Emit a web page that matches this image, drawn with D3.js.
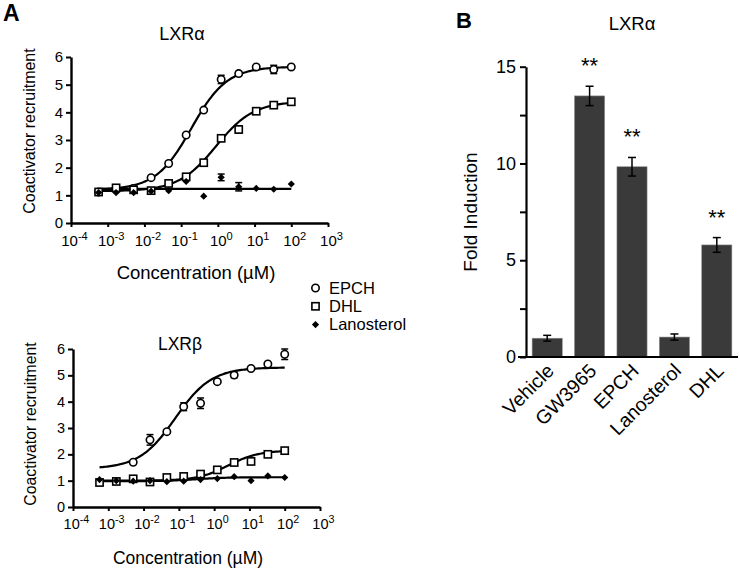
<!DOCTYPE html>
<html>
<head>
<meta charset="utf-8">
<script src="https://cdn.jsdelivr.net/npm/d3@7"></script>
<style>
    body { margin: 0; background: #fff; }
    svg { display: block; font-family: "Liberation Sans", Arial, sans-serif; }
</style>
</head>
<body>
<div id="chart"></div>
<script>
//Concentraciones (µM), diluciones 1:3
const concentrations = [0.000565, 0.00169, 0.00508, 0.0152, 0.0457, 0.137, 0.412, 1.23, 3.7, 11.1, 33.3, 100];
const decades = [1e-4, 1e-3, 1e-2, 1e-1, 1e0, 1e1, 1e2, 1e3];
const yTicksA = [0, 1, 2, 3, 4, 5, 6];

//LXRα
const alphaEPCH = [1.12, 1.2, 1.25, 1.64, 2.15, 3.18, 4.08, 5.19, 5.4, 5.64, 5.55, 5.64];
const alphaEPCHErr = [0, 0, 0, 0, 0, 0, 0, 0.15, 0.08, 0, 0.15, 0];
const alphaDHL = [1.12, 1.27, 1.2, 1.17, 1.43, 1.67, 2.18, 3.06, 3.38, 4.04, 4.26, 4.38];
const alphaDHLErr = [0, 0, 0, 0, 0, 0, 0, 0.05, 0.13, 0.05, 0, 0];
const alphaLano = [1.1, 1.1, 1.1, 1.15, 1.17, 1.5, 0.97, 1.65, 1.31, 1.25, 1.22, 1.41];
const alphaLanoErr = [0, 0, 0, 0, 0, 0, 0, 0.12, 0.15, 0, 0, 0];

//LXRβ
const betaEPCH = [null, null, 1.7, 2.55, 2.86, 3.81, 3.94, 4.76, 5.01, 5.26, 5.43, 5.8];
const betaEPCHErr = [0, 0, 0, 0.2, 0, 0.15, 0.2, 0, 0.1, 0, 0, 0.2];
const betaDHL = [0.93, 0.97, 1.07, 0.95, 1.12, 1.16, 1.25, 1.41, 1.69, 1.73, 2.0, 2.14];
const betaDHLErr = [0, 0, 0, 0, 0, 0, 0, 0, 0, 0, 0.06, 0];
const betaLano = [1.04, 1.0, 0.98, 1.0, 0.96, 0.98, 1.04, 1.08, 1.15, 1.0, 1.18, 1.12];
const betaLanoErr = [0, 0, 0, 0, 0, 0, 0, 0, 0, 0, 0, 0];

//Ajuste sigmoide: [bottom, top, logEC50, hill]
const fitAlphaEPCH = [1.2, 5.65, -0.72, 0.9];
const fitAlphaDHL = [1.15, 4.4, -0.05, 0.85];
const fitAlphaLano = [1.23, 1.23, 0, 1];
const fitBetaEPCH = [1.45, 5.3, -1.1, 0.85];
const fitBetaDHL = [1.0, 2.15, 0.4, 1.0];
const fitBetaLano = [0.98, 1.13, -0.5, 1.0];

const legendLabels = ['EPCH', 'DHL', 'Lanosterol'];

//Panel B
const barCategories = ['Vehicle', 'GW3965', 'EPCH', 'Lanosterol', 'DHL'];
const barValues = [0.97, 13.49, 9.83, 1.03, 5.79];
const barErrors = [0.15, 0.5, 0.48, 0.16, 0.38];
const barStars = ['', '**', '**', '', '**'];
const yTicksB = [0, 2.5, 5, 7.5, 10, 12.5, 15];
const yLabelsB = [0, 5, 10, 15];

let svg = d3.select('#chart')
    .append('svg')
    .attr('width', 740)
    .attr('height', 571);

function marker(g, type, x, y) {
    if (type == 'circle') {
        g.append('circle').attr('cx', x).attr('cy', y).attr('r', 3.7)
            .attr('fill', '#fff').attr('stroke', '#000').attr('stroke-width', 1.6);
    } else if (type == 'square') {
        g.append('rect').attr('x', x - 3.6).attr('y', y - 3.6).attr('width', 7.2).attr('height', 7.2)
            .attr('fill', '#fff').attr('stroke', '#000').attr('stroke-width', 1.6);
    } else {
        g.append('path').attr('d', d3.symbol(d3.symbolSquare, 26)())
            .attr('transform', 'translate(' + x + ',' + y + ') rotate(45)')
            .attr('fill', '#000');
    }
}

function doseResponse(cfg) {
    let x = d3.scaleLog().domain([1e-4, 1e3]).range([cfg.x0, cfg.x1]);
    let y = d3.scaleLinear().domain([0, 6]).range([cfg.y0, cfg.y1]);
    let g = svg.append('g');

    //Ejes
    let xAxis = g.append('g')
        .attr('transform', 'translate(0,' + cfg.y0 + ')')
        .call(d3.axisBottom(x).tickValues(decades).tickSize(4).tickSizeOuter(0));
    xAxis.selectAll('.tick text').each(function(d) {
        let t = d3.select(this);
        t.text('').attr('font-size', cfg.tick + 'px').attr('dy', '1.05em').attr('dx', '0.2em');
        t.append('tspan').text('10');
        t.append('tspan').attr('dy', '-0.55em').attr('font-size', (cfg.tick * 0.74) + 'px')
            .text(Math.round(Math.log10(d)));
    });

    let yAxis = g.append('g')
        .attr('transform', 'translate(' + cfg.x0 + ',0)')
        .call(d3.axisLeft(y).tickValues(yTicksA).tickSize(5).tickSizeOuter(0).tickFormat(d3.format('d')));
    yAxis.selectAll('.tick text').attr('font-size', cfg.tick + 'px').attr('x', -8);

    g.selectAll('.domain').attr('stroke', '#000').attr('stroke-width', 2.4);
    g.selectAll('.tick line').attr('stroke', '#000').attr('stroke-width', 2);
    g.selectAll('.tick text').attr('fill', '#000').attr('font-family', '"Liberation Sans", Arial, sans-serif');

    //Curvas ajustadas
    let lx = d3.extent(concentrations).map(Math.log10);
    let steps = d3.range(0, 121).map(function(i) { return lx[0] + (lx[1] - lx[0]) * i / 120; });
    let line = d3.line()
        .x(function(d) { return x(Math.pow(10, d[0])); })
        .y(function(d) { return y(d[1]); });

    cfg.series.forEach(function(s) {
        let p = s.fit;
        let pts = steps.map(function(l) {
            return [l, p[0] + (p[1] - p[0]) / (1 + Math.pow(10, (p[2] - l) * p[3]))];
        });
        g.append('path').datum(pts).attr('d', line)
            .attr('fill', 'none').attr('stroke', '#000').attr('stroke-width', 2.2);
    });

    //Puntos y barras de error
    cfg.series.forEach(function(s) {
        let mg = g.append('g');
        s.values.forEach(function(v, i) {
            if (v === null) return;
            let cx = x(concentrations[i]), cy = y(v), e = s.errors[i];
            if (e > 0) {
                let r = [y(v - e), y(v + e)];
                mg.append('line').attr('x1', cx).attr('x2', cx).attr('y1', r[0]).attr('y2', r[1])
                    .attr('stroke', '#000').attr('stroke-width', 1.5);
                r.forEach(function(ry) {
                    mg.append('line').attr('x1', cx - 3.5).attr('x2', cx + 3.5).attr('y1', ry).attr('y2', ry)
                        .attr('stroke', '#000').attr('stroke-width', 1.5);
                });
            }
            marker(mg, s.type, cx, cy);
        });
    });

    //Textos
    g.append('text').attr('x', cfg.titleX).attr('y', cfg.titleY).attr('text-anchor', 'middle')
        .attr('font-size', cfg.title + 'px').text(cfg.name);
    g.append('text').attr('x', cfg.xLabelX).attr('y', cfg.y0 + cfg.xLabelDy).attr('text-anchor', 'middle')
        .attr('font-size', cfg.label + 'px').text('Concentration (µM)');
    g.append('text').attr('transform', 'translate(' + cfg.yLabelX + ',' + cfg.yLabelY + ') rotate(-90)')
        .attr('text-anchor', 'middle').attr('font-size', cfg.ylabel + 'px').text('Coactivator recruitment');
}

doseResponse({
    name: 'LXRα', x0: 71, x1: 328, y0: 223, y1: 57, tick: 15, title: 18, label: 18.5, ylabel: 16,
    titleX: 182, titleY: 40, xLabelX: 196, xLabelDy: 56, yLabelX: 35, yLabelY: 131,
    series: [
        { type: 'circle', values: alphaEPCH, errors: alphaEPCHErr, fit: fitAlphaEPCH },
        { type: 'square', values: alphaDHL, errors: alphaDHLErr, fit: fitAlphaDHL },
        { type: 'diamond', values: alphaLano, errors: alphaLanoErr, fit: fitAlphaLano }
    ]
});

doseResponse({
    name: 'LXRβ', x0: 73, x1: 320, y0: 507, y1: 349, tick: 14.5, title: 17.5, label: 17.5, ylabel: 15.8,
    titleX: 180, titleY: 350, xLabelX: 188, xLabelDy: 57, yLabelX: 36, yLabelY: 424,
    series: [
        { type: 'circle', values: betaEPCH, errors: betaEPCHErr, fit: fitBetaEPCH },
        { type: 'square', values: betaDHL, errors: betaDHLErr, fit: fitBetaDHL },
        { type: 'diamond', values: betaLano, errors: betaLanoErr, fit: fitBetaLano }
    ]
});

//Leyenda
let legend = svg.append('g');
['circle', 'square', 'diamond'].forEach(function(t, i) {
    let by = 293.5 + i * 18.3;
    marker(legend, t, 315.5, by - 5.5);
    legend.append('text').attr('x', 329).attr('y', by).attr('font-size', '16.5px').text(legendLabels[i]);
});

//Letras de panel
svg.append('text').attr('x', 3).attr('y', 21).attr('font-size', '23px').attr('font-weight', 'bold').text('A');
svg.append('text').attr('x', 456).attr('y', 28).attr('font-size', '22px').attr('font-weight', 'bold').text('B');

//Panel B - barras
let xB = d3.scaleBand().domain(barCategories).range([526, 738]).paddingInner(0.29).paddingOuter(0.145);
let yB = d3.scaleLinear().domain([0, 15]).range([357, 66.7]);
let gB = svg.append('g');

gB.selectAll('rect.bar')
    .data(barValues)
    .enter()
    .append('rect')
    .attr('class', 'bar')
    .attr('x', function(d, i) { return xB(barCategories[i]); })
    .attr('y', function(d) { return yB(d); })
    .attr('width', xB.bandwidth())
    .attr('height', function(d) { return yB(0) - yB(d); })
    .attr('fill', '#3a3a3a')
    .attr('stroke', '#8a8a8a')
    .attr('stroke-width', 0.6);

barValues.forEach(function(v, i) {
    let cx = xB(barCategories[i]) + xB.bandwidth() / 2;
    let e = barErrors[i];
    gB.append('line').attr('x1', cx).attr('x2', cx).attr('y1', yB(v - e)).attr('y2', yB(v + e))
        .attr('stroke', '#000').attr('stroke-width', 1.5);
    [v - e, v + e].forEach(function(w) {
        gB.append('line').attr('x1', cx - 4).attr('x2', cx + 4).attr('y1', yB(w)).attr('y2', yB(w))
            .attr('stroke', '#000').attr('stroke-width', 1.5);
    });
    if (barStars[i]) {
        gB.append('text').attr('x', cx).attr('y', yB(v + e) - 13).attr('text-anchor', 'middle')
            .attr('font-size', '22px').text(barStars[i]);
    }
});

let yAxisB = gB.append('g')
    .attr('transform', 'translate(526,0)')
    .call(d3.axisLeft(yB).tickValues(yTicksB).tickSize(6).tickSizeOuter(0)
        .tickFormat(function(d) { return yLabelsB.indexOf(d) >= 0 ? d : ''; }));
yAxisB.selectAll('.tick text').attr('font-size', '18px').attr('x', -10);

let xAxisB = gB.append('g')
    .attr('transform', 'translate(0,357)')
    .call(d3.axisBottom(xB).tickSize(0).tickSizeOuter(0));
xAxisB.select('.domain').attr('d', 'M518,0H738');
xAxisB.selectAll('.tick text')
    .attr('font-size', '19.5px')
    .attr('text-anchor', 'end')
    .attr('x', 0).attr('y', 0).attr('dy', 0)
    .attr('transform', 'translate(8,15) rotate(-45)');

gB.selectAll('.domain').attr('stroke', '#000').attr('stroke-width', 2.2);
gB.selectAll('.tick line').attr('stroke', '#000').attr('stroke-width', 2);
gB.selectAll('.tick text').attr('fill', '#000').attr('font-family', '"Liberation Sans", Arial, sans-serif');

gB.append('text').attr('x', 632).attr('y', 29.5).attr('text-anchor', 'middle').attr('font-size', '18.5px').text('LXRα');
gB.append('text').attr('transform', 'translate(477,212) rotate(-90)').attr('text-anchor', 'middle')
    .attr('font-size', '19px').text('Fold Induction');
</script>
</body>
</html>
